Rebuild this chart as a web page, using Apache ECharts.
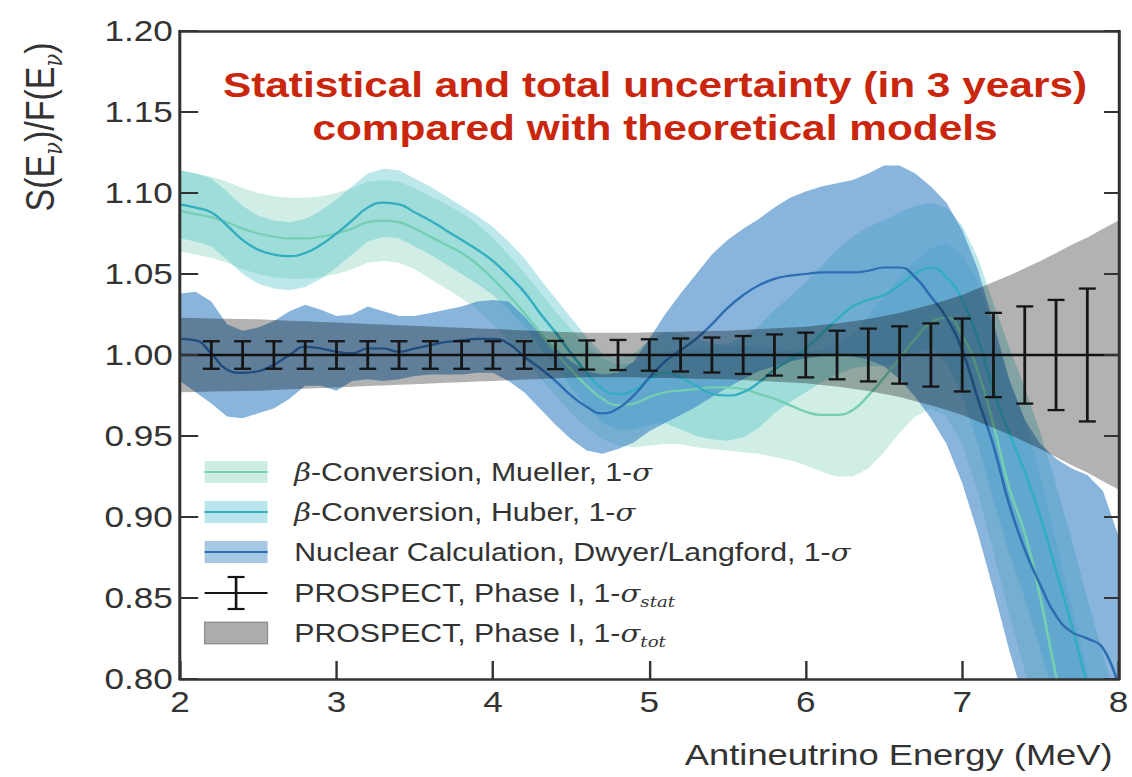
<!DOCTYPE html>
<html>
<head>
<meta charset="utf-8">
<script src="https://cdn.jsdelivr.net/npm/echarts@6/dist/echarts.min.js"></script>
<style>
  html, body { margin: 0; padding: 0; background: #ffffff; overflow: hidden; }
  #wrap { width: 1132px; height: 777px; overflow: hidden; }
  /* the figure is drawn on a narrower canvas and widened horizontally */
  #chart { width: 935px; height: 777px; transform: scaleX(1.2107); transform-origin: 0 0; }
</style>
</head>
<body>
<div id="wrap"><div id="chart"></div></div>
<script>
// Antineutrino energy grid (MeV)
const energy = [2.0,2.1,2.2,2.3,2.4,2.5,2.6,2.7,2.8,2.9,3.0,3.1,3.2,3.3,3.4,3.5,3.6,3.7,3.8,3.9,
  4.0,4.1,4.2,4.3,4.4,4.5,4.6,4.7,4.8,4.9,5.0,5.1,5.2,5.3,5.4,5.5,5.6,5.7,5.8,5.9,
  6.0,6.1,6.2,6.3,6.4,6.5,6.6,6.7,6.8,6.9,7.0,7.1,7.2,7.3,7.4,7.5,7.6,7.7,7.8,7.9,8.0];

// beta-conversion, Mueller: central value and 1-sigma band
const mueller = [1.089,1.087,1.085,1.082,1.078,1.075,1.073,1.072,1.072,1.073,1.075,1.078,1.082,1.083,1.082,1.078,1.073,1.068,1.063,1.056,
  1.047,1.037,1.026,1.014,1.002,0.991,0.981,0.973,0.969,0.970,0.974,0.977,0.978,0.979,0.980,0.980,0.979,0.976,0.973,0.969,
  0.965,0.963,0.963,0.966,0.975,0.986,0.998,1.010,1.020,1.023,1.012,0.990,0.957,0.918,0.890,0.850,0.802,0.760,0.722,0.690,0.660];
const muellerLo = [1.064,1.062,1.060,1.057,1.053,1.050,1.048,1.047,1.047,1.048,1.050,1.053,1.057,1.058,1.057,1.053,1.047,1.041,1.035,1.028,
  1.019,1.009,0.998,0.986,0.975,0.964,0.955,0.948,0.944,0.943,0.944,0.945,0.945,0.943,0.942,0.941,0.940,0.939,0.937,0.935,
  0.932,0.928,0.925,0.925,0.930,0.940,0.952,0.962,0.967,0.962,0.945,0.915,0.878,0.840,0.805,0.765,0.725,0.690,0.660,0.630,0.600];
const muellerHi = [1.114,1.112,1.110,1.107,1.103,1.100,1.098,1.097,1.097,1.098,1.100,1.103,1.107,1.108,1.107,1.103,1.098,1.093,1.088,1.081,
  1.072,1.062,1.051,1.039,1.027,1.016,1.006,0.998,0.994,0.995,0.999,1.002,1.003,1.004,1.005,1.006,1.006,1.005,1.004,1.003,
  1.002,1.003,1.006,1.013,1.024,1.036,1.048,1.058,1.066,1.069,1.062,1.045,1.016,0.985,0.960,0.925,0.885,0.845,0.805,0.775,0.745];

// beta-conversion, Huber: central value and 1-sigma band
const huber = [1.093,1.091,1.088,1.080,1.071,1.065,1.062,1.061,1.063,1.068,1.075,1.083,1.091,1.094,1.093,1.088,1.083,1.077,1.071,1.065,
  1.058,1.049,1.039,1.026,1.014,1.001,0.989,0.979,0.976,0.978,0.985,0.989,0.986,0.981,0.976,0.975,0.977,0.983,0.991,0.997,
  1.004,1.013,1.022,1.030,1.034,1.037,1.043,1.050,1.054,1.048,1.034,1.010,0.978,0.952,0.928,0.900,0.867,0.833,0.797,0.765,0.735];
const huberLo = [1.072,1.070,1.067,1.059,1.050,1.044,1.041,1.040,1.042,1.047,1.054,1.062,1.070,1.073,1.072,1.067,1.062,1.056,1.050,1.044,
  1.037,1.028,1.018,1.005,0.993,0.980,0.968,0.958,0.954,0.954,0.957,0.958,0.954,0.950,0.948,0.947,0.949,0.955,0.964,0.971,
  0.977,0.983,0.988,0.992,0.993,0.993,0.996,1.001,1.004,0.995,0.975,0.945,0.910,0.878,0.850,0.818,0.785,0.750,0.715,0.685,0.655];
const huberHi = [1.114,1.112,1.109,1.101,1.092,1.086,1.083,1.082,1.084,1.089,1.096,1.104,1.112,1.115,1.114,1.109,1.104,1.098,1.092,1.086,
  1.079,1.070,1.060,1.047,1.035,1.023,1.011,1.001,0.998,1.001,1.009,1.014,1.013,1.010,1.007,1.007,1.011,1.018,1.028,1.036,
  1.045,1.055,1.065,1.073,1.079,1.083,1.088,1.092,1.094,1.091,1.080,1.060,1.032,1.005,0.980,0.952,0.920,0.886,0.850,0.815,0.785];

// Nuclear calculation, Dwyer/Langford: central value and 1-sigma band
const dwyer = [1.010,1.009,1.001,0.991,0.989,0.990,0.994,1.000,1.005,1.004,1.002,1.001,1.004,1.004,1.002,1.004,1.006,1.008,1.009,1.010,
  1.010,1.007,0.999,0.992,0.984,0.975,0.968,0.964,0.967,0.975,0.986,0.996,1.003,1.010,1.019,1.029,1.037,1.043,1.047,1.049,
  1.050,1.051,1.051,1.051,1.052,1.054,1.054,1.048,1.036,1.023,1.003,0.973,0.944,0.908,0.880,0.858,0.839,0.829,0.825,0.819,0.795];
const dwyerLo = [0.984,0.977,0.970,0.962,0.961,0.964,0.967,0.973,0.981,0.981,0.978,0.984,0.985,0.984,0.985,0.987,0.988,0.988,0.988,0.989,
  0.989,0.984,0.977,0.967,0.957,0.948,0.941,0.939,0.942,0.946,0.953,0.958,0.963,0.968,0.974,0.980,0.985,0.990,0.993,0.996,
  0.998,0.999,1.000,0.999,0.997,0.993,0.985,0.974,0.961,0.945,0.921,0.890,0.855,0.818,0.785,0.760,0.740,0.725,0.715,0.705,0.695];
const dwyerHi = [1.038,1.039,1.033,1.019,1.015,1.017,1.021,1.027,1.031,1.028,1.024,1.025,1.030,1.027,1.024,1.024,1.026,1.028,1.030,1.033,
  1.034,1.033,1.024,1.013,1.004,0.996,0.990,0.988,0.989,0.996,1.010,1.025,1.038,1.050,1.062,1.071,1.078,1.084,1.091,1.097,
  1.101,1.104,1.106,1.108,1.112,1.117,1.117,1.112,1.104,1.094,1.077,1.053,1.020,0.985,0.960,0.945,0.936,0.930,0.926,0.916,0.888];

// PROSPECT Phase I total uncertainty (half width of the band around 1)
const totalErr = [0.0230,0.0228,0.0226,0.0224,0.0222,0.0220,0.0216,0.0212,0.0208,0.0204,0.0200,0.0196,0.0192,0.0188,0.0184,0.0180,0.0176,0.0172,0.0168,0.0164,
  0.0160,0.0156,0.0152,0.0148,0.0144,0.0140,0.0138,0.0137,0.0137,0.0138,0.0140,0.0142,0.0144,0.0146,0.0148,0.0150,0.0155,0.0160,0.0165,0.0170,
  0.0175,0.0185,0.0195,0.0208,0.0222,0.0240,0.0260,0.0285,0.0310,0.0340,0.0370,0.0410,0.0450,0.0490,0.0535,0.0580,0.0630,0.0680,0.0725,0.0780,0.0830];

// PROSPECT Phase I statistical uncertainty per bin
const statEnergy = [2.2,2.4,2.6,2.8,3.0,3.2,3.4,3.6,3.8,4.0,4.2,4.4,4.6,4.8,5.0,5.2,5.4,5.6,5.8,6.0,6.2,6.4,6.6,6.8,7.0,7.2,7.4,7.6,7.8];
const statErr = [0.0085,0.0085,0.0085,0.0085,0.0085,0.0085,0.0085,0.0085,0.0085,0.0085,0.0085,0.0087,0.0090,0.0093,0.0097,
  0.0102,0.0108,0.0117,0.0127,0.0138,0.0150,0.0163,0.0177,0.0195,0.0225,0.0260,0.0300,0.0340,0.0410];

const yTicks = [0.80,0.85,0.90,0.95,1.00,1.05,1.10,1.15,1.20];

const C = {
  muellerBand: 'rgba(100,200,170,0.30)', muellerLine: '#74cfb2',
  huberBand: 'rgba(70,190,200,0.36)',    huberLine: '#33adc0',
  dwyerBand: 'rgba(58,132,196,0.60)',    dwyerLine: '#2d6db2',
  totalBand: 'rgba(0,0,0,0.30)',
  axis: '#333333', text: '#333333', title: '#c9260d'
};
const SANS = '"Liberation Sans", Arial, sans-serif';
const SERIF = '"DejaVu Serif", "Liberation Serif", serif';

const pairs = (ys) => energy.map((e, i) => [e, ys[i]]);

// a filled band between two curves, drawn as one polygon through the axis scales
function band(name, lo, hi, color, z) {
  return {
    type: 'custom', name: name, z: z, silent: true, clip: true,
    data: energy.map((e, i) => [e, lo[i], hi[i]]),
    encode: { x: 0, y: [1, 2] },
    renderItem: function (params, api) {
      if (params.dataIndex !== 0) return;
      const pts = [];
      for (let i = 0; i < energy.length; i++) pts.push(api.coord([energy[i], hi[i]]));
      for (let i = energy.length - 1; i >= 0; i--) pts.push(api.coord([energy[i], lo[i]]));
      return { type: 'polygon', shape: { points: pts }, style: { fill: color, stroke: 'none' } };
    }
  };
}
function curve(name, ys, color, z) {
  return { type: 'line', name: name, data: pairs(ys), symbol: 'none', smooth: 0.5,
           silent: true, z: z, lineStyle: { color: color, width: 2.2 }, emphasis: { disabled: true } };
}

const totalLo = totalErr.map(d => +(1 - d).toFixed(4));
const totalHi = totalErr.map(d => +(1 + d).toFixed(4));

const series = [
  band('Mueller band', muellerLo, muellerHi, C.muellerBand, 2),
  curve('Mueller', mueller, C.muellerLine, 2),
  band('Huber band', huberLo, huberHi, C.huberBand, 2),
  curve('Huber', huber, C.huberLine, 2),
  band('Dwyer/Langford band', dwyerLo, dwyerHi, C.dwyerBand, 2),
  curve('Dwyer/Langford', dwyer, C.dwyerLine, 2),
  band('PROSPECT total', totalLo, totalHi, C.totalBand, 3),
  {
    type: 'line', name: 'unity', data: [[2, 1], [8, 1]], symbol: 'none', silent: true, z: 4,
    lineStyle: { color: '#111', width: 2.4 }
  }, {
    type: 'custom', name: 'PROSPECT stat', z: 5, silent: true,
    data: statEnergy.map((e, i) => [e, 1, statErr[i]]),
    encode: { x: 0, y: 1 },
    renderItem: function (params, api) {
      const e = api.value(0), s = api.value(2);
      const top = api.coord([e, 1 + s]), bot = api.coord([e, 1 - s]);
      const hw = 7;
      const st = { stroke: '#151515', lineWidth: 2.3 };
      return { type: 'group', children: [
        { type: 'line', shape: { x1: top[0], y1: top[1], x2: bot[0], y2: bot[1] }, style: st },
        { type: 'line', shape: { x1: top[0] - hw, y1: top[1], x2: top[0] + hw, y2: top[1] }, style: st },
        { type: 'line', shape: { x1: bot[0] - hw, y1: bot[1], x2: bot[0] + hw, y2: bot[1] }, style: st }
      ]};
    }
  }
];

// legend rows, drawn as graphic elements
const legendRows = [
  { y: 472, kind: 'band', fill: 'rgba(100,200,170,0.32)', line: C.muellerLine,
    text: '{g|β}-Conversion, Mueller, 1-{m|σ}' },
  { y: 512, kind: 'band', fill: 'rgba(70,190,200,0.38)', line: C.huberLine,
    text: '{g|β}-Conversion, Huber, 1-{m|σ}' },
  { y: 552, kind: 'band', fill: 'rgba(58,132,196,0.45)', line: C.dwyerLine,
    text: 'Nuclear Calculation, Dwyer/Langford, 1-{m|σ}' },
  { y: 593, kind: 'err',
    text: 'PROSPECT, Phase I, 1-{m|σ}{sub|stat}' },
  { y: 633, kind: 'gray',
    text: 'PROSPECT, Phase I, 1-{m|σ}{sub|tot}' }
];
const richLegend = {
  g:   { fontFamily: SERIF, fontStyle: 'italic', fontSize: 24, color: '#666', lineHeight: 34, verticalAlign: 'middle' },
  m:   { fontFamily: SERIF, fontStyle: 'italic', fontSize: 24, color: '#333', lineHeight: 34, verticalAlign: 'middle' },
  sub: { fontFamily: SERIF, fontStyle: 'italic', fontSize: 15, color: '#555', lineHeight: 15, verticalAlign: 'bottom' }
};
const sx0 = 169, sx1 = 221;
const graphics = [];
legendRows.forEach(function (r) {
  if (r.kind === 'band') {
    graphics.push({ type: 'rect', shape: { x: sx0, y: r.y - 11, width: sx1 - sx0, height: 22 }, style: { fill: r.fill } });
    graphics.push({ type: 'line', shape: { x1: sx0, y1: r.y, x2: sx1, y2: r.y }, style: { stroke: r.line, lineWidth: 2.2 } });
  } else if (r.kind === 'err') {
    const cx = (sx0 + sx1) / 2, st = { stroke: '#151515', lineWidth: 2.2 };
    graphics.push({ type: 'line', shape: { x1: sx0, y1: r.y, x2: sx1, y2: r.y }, style: st });
    graphics.push({ type: 'line', shape: { x1: cx, y1: r.y - 16, x2: cx, y2: r.y + 16 }, style: st });
    graphics.push({ type: 'line', shape: { x1: cx - 7, y1: r.y - 16, x2: cx + 7, y2: r.y - 16 }, style: st });
    graphics.push({ type: 'line', shape: { x1: cx - 7, y1: r.y + 16, x2: cx + 7, y2: r.y + 16 }, style: st });
  } else {
    graphics.push({ type: 'rect', shape: { x: sx0, y: r.y - 11, width: sx1 - sx0, height: 22 },
                    style: { fill: 'rgba(0,0,0,0.32)', stroke: 'rgba(0,0,0,0.35)', lineWidth: 1 } });
  }
  graphics.push({ type: 'text', x: 243, y: r.y, style: {
    text: r.text, fontFamily: SANS, fontSize: 25, fill: C.text, lineHeight: 34,
    verticalAlign: 'middle', align: 'left', rich: richLegend } });
});

// title lines
graphics.push({ type: 'text', x: 541, y: 85, style: { text: 'Statistical and total uncertainty (in 3 years)',
  fontFamily: SANS, fontWeight: 'bold', fontSize: 35, fill: C.title, align: 'center', verticalAlign: 'middle' } });
graphics.push({ type: 'text', x: 541, y: 128, style: { text: 'compared with theoretical models',
  fontFamily: SANS, fontWeight: 'bold', fontSize: 35, fill: C.title, align: 'center', verticalAlign: 'middle' } });

// axis titles
graphics.push({ type: 'text', x: 919, y: 755, style: { text: 'Antineutrino Energy (MeV)',
  fontFamily: SANS, fontSize: 30, fill: C.text, align: 'right', verticalAlign: 'middle' } });
graphics.push({ type: 'text', x: 33, y: 127, rotation: Math.PI / 2, style: {
  text: 'S(E{s|ν})/F(E{s|ν})', fontFamily: SANS, fontSize: 34, fill: C.text, lineHeight: 42,
  align: 'center', verticalAlign: 'middle',
  rich: { s: { fontFamily: SERIF, fontStyle: 'italic', fontSize: 21, lineHeight: 21, verticalAlign: 'bottom', fill: C.text } } } });

const axisLine = { show: true, lineStyle: { color: C.axis, width: 2.5 } };
const labelStyle = { fontFamily: SANS, fontSize: 29, color: C.text };

const option = {
  animation: false,
  backgroundColor: '#ffffff',
  grid: { left: 148.7, right: 10, top: 31, bottom: 98, containLabel: false },
  xAxis: [{
    type: 'value', min: 2, max: 8, interval: 1, position: 'bottom', z: 10,
    axisLine: axisLine,
    axisTick: { show: true, inside: true, length: 18, lineStyle: { color: C.axis, width: 2 } },
    axisLabel: Object.assign({ margin: 9 }, labelStyle),
    splitLine: { show: false }
  }, {
    type: 'value', min: 2, max: 8, interval: 1, position: 'top', z: 10,
    axisLine: axisLine, axisTick: { show: false }, axisLabel: { show: false }, splitLine: { show: false }
  }],
  yAxis: [{
    type: 'value', min: yTicks[0], max: yTicks[yTicks.length - 1], interval: 0.05, position: 'left', z: 10,
    axisLine: axisLine,
    axisTick: { show: true, inside: true, length: 15, lineStyle: { color: C.axis, width: 2 } },
    axisLabel: Object.assign({ margin: 6, formatter: v => v.toFixed(2) }, labelStyle),
    splitLine: { show: false }
  }, {
    type: 'value', min: yTicks[0], max: yTicks[yTicks.length - 1], interval: 0.05, position: 'right', z: 10,
    axisLine: axisLine,
    axisTick: { show: true, inside: true, length: 12, lineStyle: { color: C.axis, width: 2 } },
    axisLabel: { show: false }, splitLine: { show: false }
  }],
  series: series,
  graphic: graphics
};

const chart = echarts.init(document.getElementById('chart'), null, { renderer: 'svg' });
chart.setOption(option);
</script>
</body>
</html>
